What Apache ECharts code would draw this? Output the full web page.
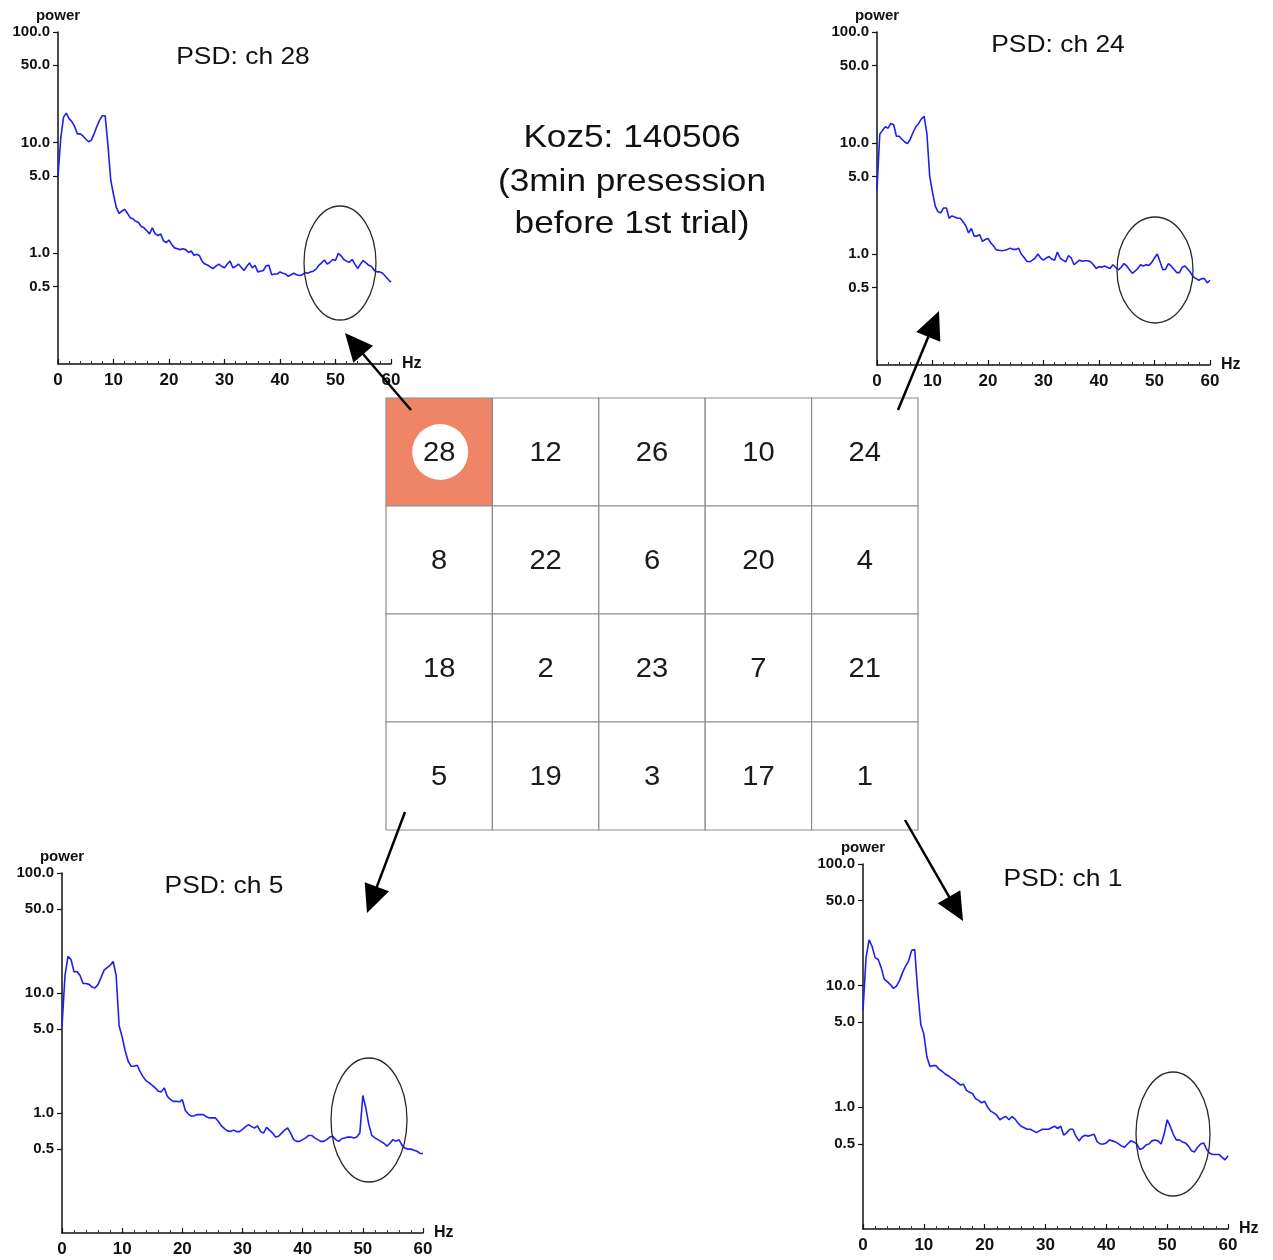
<!DOCTYPE html>
<html>
<head>
<meta charset="utf-8">
<title>Koz5: 140506 PSD</title>
<script src="https://cdn.jsdelivr.net/npm/echarts@6/dist/echarts.min.js"></script>
<style>
  html, body { margin: 0; padding: 0; background: #fff; }
  #chart { width: 1273px; height: 1260px; }
</style>
</head>
<body>
<div id="chart"></div>
<script>
// frequency bins (Hz) shared by all four spectra
const freqHz = [
  0, 0.5, 1, 1.5, 2, 2.5, 3, 3.5, 4, 4.5, 5, 5.5, 6, 6.5, 7, 7.5, 8, 8.5, 9, 9.5,
  10, 10.5, 11, 11.5, 12, 12.5, 13, 13.5, 14, 14.5, 15, 15.5, 16, 16.5, 17, 17.5, 18, 18.5, 19, 19.5,
  20, 20.5, 21, 21.5, 22, 22.5, 23, 23.5, 24, 24.5, 25, 25.5, 26, 26.5, 27, 27.5, 28, 28.5, 29, 29.5,
  30, 30.5, 31, 31.5, 32, 32.5, 33, 33.5, 34, 34.5, 35, 35.5, 36, 36.5, 37, 37.5, 38, 38.5, 39, 39.5,
  40, 40.5, 41, 41.5, 42, 42.5, 43, 43.5, 44, 44.5, 45, 45.5, 46, 46.5, 47, 47.5, 48, 48.5, 49, 49.5,
  50, 50.5, 51, 51.5, 52, 52.5, 53, 53.5, 54, 54.5, 55, 55.5, 56, 56.5, 57, 57.5, 58, 58.5, 59, 59.5,
  60
];

const psdCh28 = [
  5.0, 11, 17, 18.5, 16.5, 15.5, 14, 12, 12, 11.5, 10.8, 10.2, 10.5, 12, 14, 16, 17.5, 17.5, 9.5, 4.6,
  3.4, 2.6, 2.3, 2.4, 2.5, 2.3, 2.1, 2.05, 1.95, 1.9, 1.75, 1.7, 1.6, 1.5, 1.7, 1.5, 1.45, 1.5, 1.3, 1.25,
  1.32, 1.2, 1.12, 1.1, 1.08, 1.1, 1.08, 1.02, 1.05, 0.96, 0.98, 0.95, 0.84, 0.8, 0.78, 0.75, 0.73, 0.77, 0.8, 0.76,
  0.74, 0.8, 0.85, 0.74, 0.76, 0.8, 0.75, 0.7, 0.76, 0.82, 0.74, 0.78, 0.68, 0.69, 0.7, 0.77, 0.78, 0.64, 0.65, 0.65,
  0.68, 0.66, 0.65, 0.62, 0.64, 0.66, 0.64, 0.63, 0.64, 0.67, 0.66, 0.68, 0.69, 0.72, 0.78, 0.82, 0.87, 0.8, 0.83, 0.88,
  0.86, 1.0, 0.95, 0.88, 0.85, 0.83, 0.88, 0.8, 0.73, 0.8, 0.86, 0.82, 0.78, 0.76, 0.7, 0.68, 0.68, 0.66, 0.62, 0.58,
  0.55
];

const psdCh24 = [
  3.8, 12, 13, 14, 13.6, 15, 14.6, 11.5, 11.5, 10.8, 10.2, 9.9, 10.8, 12.5, 14, 15, 16.5, 17.4, 12, 5.0,
  3.6, 2.7, 2.4, 2.35, 2.6, 2.6, 2.1, 2.2, 2.15, 2.1, 2.1, 1.95, 1.8, 1.55, 1.7, 1.45, 1.45, 1.49, 1.3, 1.35,
  1.38, 1.26, 1.18, 1.09, 1.08, 1.07, 1.08, 1.1, 1.13, 1.1, 1.1, 1.13, 1.0, 0.93, 0.86, 0.85, 0.88, 0.92, 1.0, 0.92,
  0.88, 0.92, 0.95, 0.9, 0.88, 1.04, 0.92, 0.88, 0.85, 0.97, 0.92, 0.8, 0.84, 0.88, 0.86, 0.87, 0.87, 0.85, 0.8, 0.74,
  0.77, 0.76, 0.78, 0.76, 0.74, 0.8, 0.76, 0.72, 0.76, 0.82, 0.78, 0.72, 0.67, 0.7, 0.74, 0.8, 0.78, 0.8, 0.79, 0.84,
  0.92, 1.0, 0.85, 0.72, 0.73, 0.82, 0.78, 0.73, 0.68, 0.68, 0.76, 0.78, 0.73, 0.68, 0.62, 0.6, 0.58, 0.6, 0.6, 0.55,
  0.58
];

const psdCh5 = [
  5.3, 14, 20.2, 19, 15, 15.1, 14, 12, 12, 11.8, 11.2, 11, 11.8, 13.5, 15.5, 16.3, 17, 18.3, 14, 5.3,
  4.3, 3.3, 2.7, 2.45, 2.45, 2.5, 2.2, 2.0, 1.85, 1.78, 1.7, 1.62, 1.52, 1.5, 1.62, 1.38, 1.3, 1.25, 1.25, 1.24,
  1.29, 1.05, 0.98, 0.94, 0.95, 0.97, 0.97, 0.97, 0.93, 0.91, 0.91, 0.91, 0.85, 0.78, 0.74, 0.71, 0.7, 0.72, 0.7, 0.7,
  0.73, 0.77, 0.8, 0.77, 0.75, 0.78, 0.7, 0.68, 0.76, 0.72, 0.68, 0.63, 0.64, 0.68, 0.72, 0.75, 0.68, 0.6, 0.58, 0.58,
  0.6, 0.62, 0.65, 0.65, 0.62, 0.6, 0.58, 0.58, 0.6, 0.63, 0.64, 0.6, 0.58, 0.61, 0.62, 0.63, 0.63, 0.62, 0.63, 0.68,
  1.4, 1.1, 0.8, 0.65, 0.62, 0.6, 0.58, 0.56, 0.53, 0.56, 0.6, 0.58, 0.6, 0.54, 0.51, 0.5, 0.5, 0.49, 0.48, 0.46,
  0.46
];

const psdCh1 = [
  6.3, 17, 23.8, 21, 17, 16.4, 14, 11.3, 10.8, 10.2, 9.5, 9.9, 11, 12.8, 14.5, 16, 19.5, 19.8, 9, 4.8,
  4.0, 2.6, 2.17, 2.2, 2.2, 2.06, 1.98, 1.88, 1.82, 1.74, 1.68, 1.6, 1.53, 1.55, 1.38, 1.33, 1.3, 1.18, 1.14, 1.09,
  1.12, 1.0, 0.93, 0.9, 0.86, 0.79, 0.82, 0.84, 0.79, 0.84, 0.8, 0.74, 0.7, 0.68, 0.66, 0.66, 0.64, 0.62, 0.64, 0.66,
  0.66, 0.66, 0.68, 0.7, 0.67, 0.7, 0.59, 0.62, 0.66, 0.66, 0.58, 0.53, 0.57, 0.59, 0.58, 0.59, 0.6, 0.52, 0.5, 0.5,
  0.51, 0.54, 0.53, 0.52, 0.5, 0.48, 0.47, 0.5, 0.53, 0.52, 0.5, 0.45, 0.46, 0.49, 0.5, 0.53, 0.54, 0.53, 0.5, 0.6,
  0.79, 0.7, 0.6, 0.54, 0.54, 0.52, 0.51, 0.48, 0.44, 0.43, 0.47, 0.5, 0.51, 0.45, 0.42, 0.41, 0.41, 0.41, 0.39, 0.37,
  0.4
];

const powerTicks = [0.5, 1, 5, 10, 50, 100];

// electrode layout, row by row as on the array
const electrodeCols = ['c1', 'c2', 'c3', 'c4', 'c5'];
const electrodeRows = ['r1', 'r2', 'r3', 'r4'];
const electrodeLayout = [
  [28, 12, 26, 10, 24],
  [8, 22, 6, 20, 4],
  [18, 2, 23, 7, 21],
  [5, 19, 3, 17, 1]
];
const highlightChannel = 28;

const titleLines = ['Koz5: 140506', '(3min presession', 'before 1st trial)'];

const FONT = '"Liberation Sans", Arial, sans-serif';
const INK = '#111';
const STRETCH = 1.1; // the source figure is a little wider than tall

const panels = [
  { ch: 28, values: psdCh28, grid: { left: 58, top: 32, width: 333, height: 332 }, title: [243, 56],
    ring: { cx: 340, cy: 263, rx: 36, ry: 57 } },
  { ch: 24, values: psdCh24, grid: { left: 877, top: 32, width: 333, height: 333 }, title: [1058, 44],
    ring: { cx: 1155, cy: 270, rx: 38, ry: 53 } },
  { ch: 5, values: psdCh5, grid: { left: 62, top: 873, width: 361, height: 360 }, title: [224, 885],
    ring: { cx: 369, cy: 1120, rx: 38, ry: 62 } },
  { ch: 1, values: psdCh1, grid: { left: 863, top: 864, width: 365, height: 365 }, title: [1063, 878],
    ring: { cx: 1173, cy: 1134, rx: 37, ry: 62 } }
];

const arrows = [
  [411, 410, 345, 333],
  [898, 410, 939, 311],
  [405, 812, 367, 913],
  [905, 820, 963, 921]
];

function arrowParts(x1, y1, x2, y2) {
  const dx = x2 - x1, dy = y2 - y1;
  const len = Math.hypot(dx, dy);
  const ux = dx / len, uy = dy / len;
  const hl = 28, hw = 13;
  const bx = x2 - ux * hl, by = y2 - uy * hl;
  return [
    { type: 'line', shape: { x1, y1, x2: bx + ux * 2, y2: by + uy * 2 }, style: { stroke: '#000', lineWidth: 2.5 } },
    { type: 'polygon', shape: { points: [[x2, y2], [bx - uy * hw, by + ux * hw], [bx + uy * hw, by - ux * hw]] },
      style: { fill: '#000' } }
  ];
}

const grids = panels.map(p => p.grid);
grids.push({ left: 386, top: 398, width: 532, height: 432 });

const xAxes = panels.map((p, i) => ({
  gridIndex: i,
  type: 'value',
  min: 0,
  max: 60,
  interval: 10,
  name: 'Hz',
  nameLocation: 'end',
  nameGap: 11,
  nameTextStyle: { fontSize: 16, fontWeight: 'bold', color: INK, fontFamily: FONT },
  axisLine: { onZero: false, lineStyle: { color: INK, width: 1.5 } },
  axisTick: { inside: true, length: 5, lineStyle: { color: INK, width: 1.2 } },
  minorTick: { show: true, splitNumber: 5, length: 3, lineStyle: { color: '#333' } },
  axisLabel: { fontSize: 17, fontWeight: 'bold', color: INK, fontFamily: FONT, margin: 8 },
  splitLine: { show: false }
}));
xAxes.push({ gridIndex: 4, type: 'category', data: electrodeCols, show: false });

const yAxes = panels.map((p, i) => ({
  gridIndex: i,
  type: 'log',
  logBase: 10,
  min: 0.1,
  max: 100,
  name: 'power',
  nameLocation: 'end',
  nameGap: 9,
  nameTextStyle: { fontSize: 15, fontWeight: 'bold', color: INK, fontFamily: FONT, align: 'center' },
  axisLine: { lineStyle: { color: INK, width: 1.5 } },
  axisTick: { inside: false, length: 5, customValues: powerTicks, lineStyle: { color: INK, width: 1.2 } },
  axisLabel: {
    customValues: powerTicks,
    formatter: v => Number(v).toFixed(1),
    fontSize: 15, fontWeight: 'bold', color: INK, fontFamily: FONT, margin: 8
  },
  splitLine: { show: false }
}));
yAxes.push({ gridIndex: 4, type: 'category', data: electrodeRows, inverse: true, show: false });

const series = panels.map((p, i) => ({
  name: 'ch ' + p.ch,
  type: 'line',
  xAxisIndex: i,
  yAxisIndex: i,
  data: freqHz.map((f, k) => [f, p.values[k]]),
  showSymbol: false,
  lineStyle: { color: '#1f1fee', width: 1.6 },
  itemStyle: { color: '#1f1fee' },
  animation: false
}));

const cellData = [];
electrodeLayout.forEach((row, r) => row.forEach((ch, c) => cellData.push([c, r, ch])));

series.push({
  type: 'custom',
  xAxisIndex: 4,
  yAxisIndex: 4,
  data: cellData,
  encode: { x: 0, y: 1 },
  renderItem: (params, api) => {
    const ch = api.value(2);
    const c = api.coord([api.value(0), api.value(1)]);
    const s = api.size([1, 1]);
    const hot = ch === highlightChannel;
    const children = [{
      type: 'rect',
      shape: { x: c[0] - s[0] / 2, y: c[1] - s[1] / 2, width: s[0], height: s[1] },
      style: { fill: hot ? '#ef8467' : '#fff', stroke: '#8c8c8c', lineWidth: 1.2 }
    }];
    if (hot) {
      children.push({ type: 'circle', shape: { cx: c[0] + 1, cy: c[1], r: 28 }, style: { fill: '#fff' } });
    }
    children.push({
      type: 'text',
      x: c[0],
      y: c[1] + 2,
      scaleX: 1.08,
      style: { text: String(ch), fill: '#1a1a1a', font: '27px ' + FONT, align: 'center', verticalAlign: 'middle' }
    });
    return { type: 'group', children };
  },
  animation: false
});

const elements = [];
const titleY = [138, 182, 224];
titleLines.forEach((t, i) => {
  elements.push({
    type: 'text', x: 632, y: titleY[i], scaleX: STRETCH,
    style: { text: t, fill: INK, font: '32px ' + FONT, align: 'center', verticalAlign: 'middle' }
  });
});
panels.forEach(p => {
  elements.push({
    type: 'text', x: p.title[0], y: p.title[1] + 1, scaleX: STRETCH,
    style: { text: 'PSD: ch ' + p.ch, fill: INK, font: '24px ' + FONT, align: 'center', verticalAlign: 'middle' }
  });
  elements.push({
    type: 'ellipse', shape: p.ring, z: 10,
    style: { fill: 'none', stroke: '#2a2a2a', lineWidth: 1.3 }
  });
});
arrows.forEach(a => arrowParts(...a).forEach(el => elements.push(Object.assign({ z: 20 }, el))));

const chart = echarts.init(document.getElementById('chart'), null, { renderer: 'canvas' });
chart.setOption({
  backgroundColor: '#fff',
  animation: false,
  grid: grids,
  xAxis: xAxes,
  yAxis: yAxes,
  series: series,
  graphic: { elements: elements }
});
</script>
</body>
</html>
